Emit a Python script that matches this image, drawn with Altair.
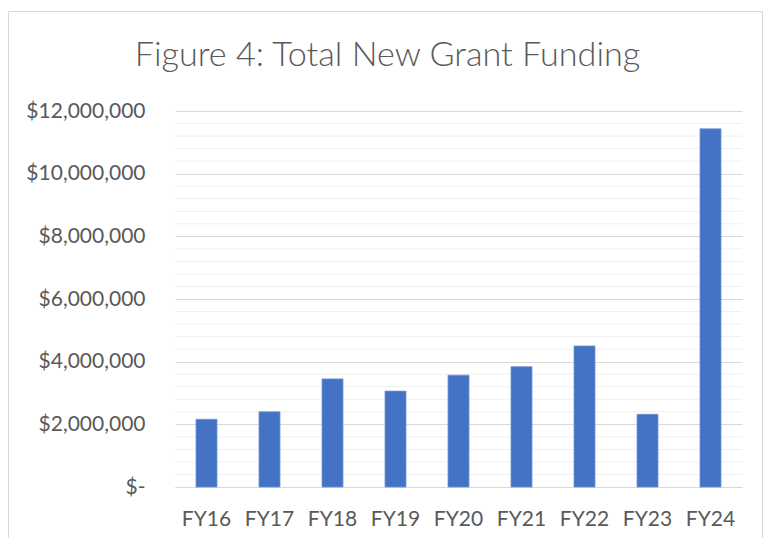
import altair as alt
import pandas as pd

# ---- data ----
years = ["FY16", "FY17", "FY18", "FY19", "FY20", "FY21", "FY22", "FY23", "FY24"]
funding = [2160000, 2400000, 3450000, 3060000, 3570000, 3840000, 4500000, 2320000, 11430000]
major_ticks = [0, 2000000, 4000000, 6000000, 8000000, 10000000, 12000000]
minor_ticks = [400000, 800000, 1200000, 1600000,
               2400000, 2800000, 3200000, 3600000,
               4400000, 4800000, 5200000, 5600000,
               6400000, 6800000, 7200000, 7600000,
               8400000, 8800000, 9200000, 9600000,
               10400000, 10800000, 11200000, 11600000]
title_text = "Figure 4: Total New Grant Funding"

bars_df = pd.DataFrame({"year": years, "funding": funding})
minor_df = pd.DataFrame({"funding": minor_ticks})

FONT = "Lato"
TXT = "#595959"
PLOT_W, PLOT_H = 567, 376
PAD_L, PAD_T, PAD_R, PAD_B = 167, 103, 21, 51

yscale = alt.Scale(domain=[0, 12000000], nice=False, zero=True)
yaxis = alt.Axis(values=major_ticks, grid=True, gridColor="#d9d9d9", gridWidth=1,
                 domain=False, ticks=False, labelPadding=30,
                 labelFont=FONT, labelFontSize=21, labelColor=TXT,
                 labelExpr="datum.value == 0 ? '$-' : '$' + format(datum.value, ',')")

minor = alt.Chart(minor_df).mark_rule(color="#efefef", strokeWidth=1).encode(
    y=alt.Y("funding:Q", scale=yscale, title=None, axis=yaxis)
)

bars = alt.Chart(bars_df).mark_bar(color="#4472C4", stroke="#7094d4", strokeWidth=0.8).encode(
    x=alt.X("year:N", sort=years, title=None,
            scale=alt.Scale(paddingInner=2/3, paddingOuter=1/3),
            axis=alt.Axis(labelAngle=0, ticks=False, domain=True, domainColor="#d9d9d9",
                          labelFont=FONT, labelFontSize=21, labelColor=TXT,
                          labelPadding=21, grid=False)),
    y=alt.Y("funding:Q", scale=yscale, title=None, axis=yaxis),
)

frame_df = pd.DataFrame({"k": [0]})
fb = alt.Chart(frame_df).mark_rule(color="#d9d9d9", strokeWidth=1)
left = fb.encode(x=alt.value(-PAD_L + 0.5), y=alt.value(-PAD_T + 3.5), y2=alt.value(PLOT_H + PAD_B))
top = fb.encode(x=alt.value(-PAD_L + 0.5), x2=alt.value(PLOT_W + PAD_R - 0.5), y=alt.value(-PAD_T + 3.5))
right = fb.encode(x=alt.value(PLOT_W + PAD_R - 0.5), y=alt.value(-PAD_T + 3.5), y2=alt.value(PLOT_H + PAD_B))

chart = alt.layer(minor, bars, left, top, right).properties(
    width=PLOT_W,
    height=PLOT_H,
    autosize=alt.AutoSizeParams(type="none"),
    padding={"left": PAD_L, "top": PAD_T, "right": PAD_R, "bottom": PAD_B},
    title=alt.TitleParams(title_text, font=FONT, fontSize=34.2, fontWeight=300, color=TXT,
                          anchor="middle", frame="group", baseline="alphabetic",
                          dx=-71, dy=89, offset=0),
).configure_view(stroke=None)

chart.save("out.html", embed_options={"renderer": "svg", "actions": False})
